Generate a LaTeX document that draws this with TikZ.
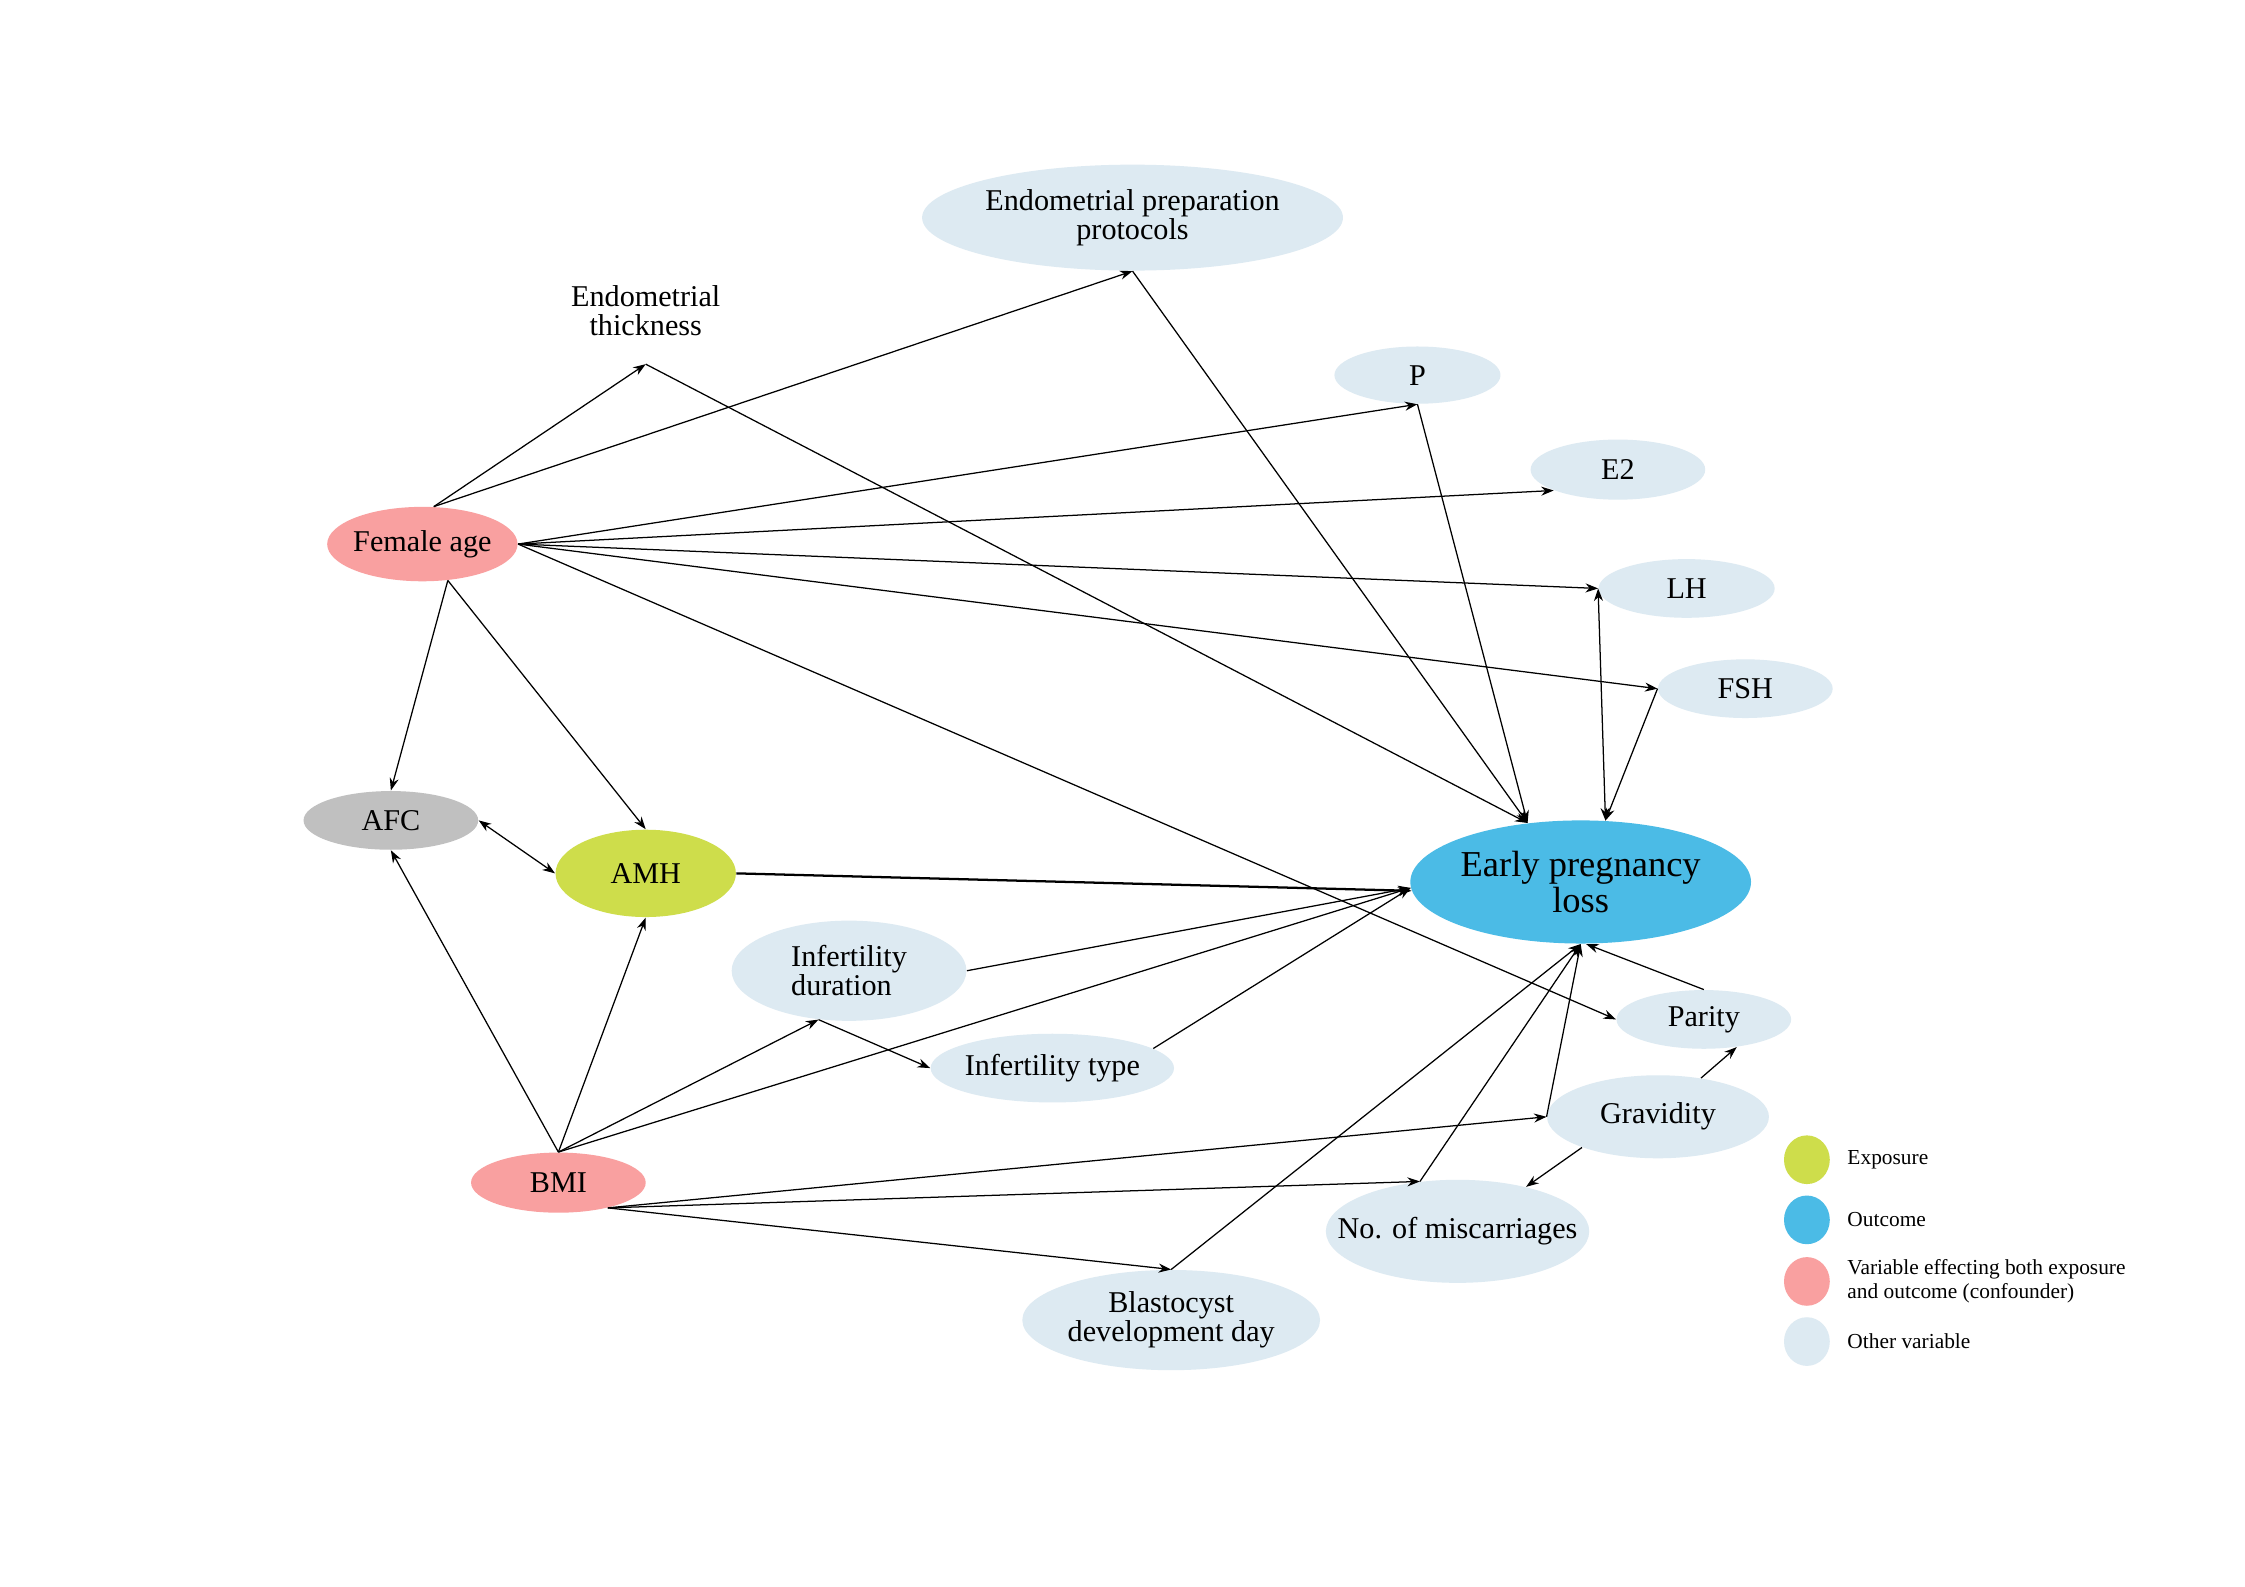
\documentclass[tikz,border=0pt]{standalone}
\usepackage{fontspec}
\setmainfont{Liberation Serif}
\usetikzlibrary{shapes.geometric,arrows.meta}
\definecolor{cpink}{RGB}{249,160,160}
\definecolor{cgreen}{RGB}{206,221,75}
\definecolor{cblue}{RGB}{75,187,230}
\definecolor{clight}{RGB}{221,234,242}
\definecolor{cgray}{RGB}{192,192,192}
\tikzset{
  var/.style={ellipse, inner xsep=-14pt, inner ysep=-5pt, align=center, font=\fontsize{12}{11.5}\selectfont},
  other/.style={var, fill=clight},
  conf/.style={var, fill=cpink},
  expo/.style={var, fill=cgreen},
  outc/.style={var, fill=cblue, font=\fontsize{14.5}{13}\selectfont},
  grayv/.style={var, fill=cgray},
  arr/.style={-{Stealth[length=5pt,width=3.6pt]}, line width=0.5pt},
  darr/.style={{Stealth[length=5pt,width=3.6pt]}-{Stealth[length=5pt,width=3.6pt]}, line width=0.5pt},
  legdot/.style={ellipse, minimum width=0.64cm, minimum height=0.68cm, inner sep=0pt},
  legtxt/.style={anchor=west, align=left, inner sep=0pt, font=\fontsize{8.5}{9.6}\selectfont}
}
\begin{document}
\begin{tikzpicture}[x=0.02cm, y=-0.02cm]
\useasboundingbox[fill=white] (0,0) rectangle (1568,1108);
% nodes
\node[other, minimum width=5.88cm, minimum height=1.48cm] (epp) at (791,152) {Endometrial preparation\\protocols};
\node[var, minimum width=4.0cm, minimum height=1.48cm] (et) at (451,217) {Endometrial\\thickness};
\node[other, minimum width=2.32cm, minimum height=0.80cm] (p) at (990,262) {P};
\node[other, minimum width=2.44cm, minimum height=0.84cm] (e2) at (1130,328) {E2};
\node[other, minimum width=2.46cm, minimum height=0.82cm] (lh) at (1178,411) {LH};
\node[other, minimum width=2.44cm, minimum height=0.82cm] (fsh) at (1219,481) {FSH};
\node[conf, minimum width=2.66cm, minimum height=1.04cm] (fa) at (295,380) {Female age};
\node[grayv, minimum width=2.44cm, minimum height=0.82cm] (afc) at (273,573) {AFC};
\node[expo, minimum width=2.52cm, minimum height=1.22cm] (amh) at (451,610) {AMH};
\node[outc, minimum width=4.76cm, minimum height=1.72cm] (epl) at (1104,616) {Early pregnancy\\loss};
\node[other, minimum width=3.28cm, minimum height=1.40cm, align=left] (idur) at (593,678) {Infertility\\duration};
\node[other, minimum width=3.40cm, minimum height=0.96cm] (itype) at (735,746) {Infertility type};
\node[other, minimum width=2.44cm, minimum height=0.82cm] (parity) at (1190,712) {Parity};
\node[other, minimum width=3.10cm, minimum height=1.16cm] (grav) at (1158,780) {Gravidity};
\node[conf, minimum width=2.44cm, minimum height=0.84cm] (bmi) at (390,826) {BMI};
\node[other, minimum width=3.68cm, minimum height=1.44cm] (nom) at (1018,860) {No. of miscarriages};
\node[other, minimum width=4.16cm, minimum height=1.40cm] (blast) at (818,922) {Blastocyst\\development day};
% legend
\node[legdot, fill=cgreen] (l1) at (1262,810) {};
\node[legdot, fill=cblue] (l2) at (1262,852) {};
\node[legdot, fill=cpink] (l3) at (1262,895) {};
\node[legdot, fill=clight] (l4) at (1262,937) {};
\node[legtxt] (t1) at (1290,810) {Exposure};
\node[legtxt] (t2) at (1290,852) {Outcome};
\node[legtxt] (t3) at (1290,895) {Variable effecting both exposure\\and outcome (confounder)};
\node[legtxt] (t4) at (1290,937) {Other variable};
% edges from female age
\draw[arr] (fa.73) -- (et.south);
\draw[arr] (fa.73) -- (epp.south);
\draw[arr] (fa.east) -- (p.south);
\draw[arr] (fa.east) -- (e2.198);
\draw[arr] (fa.east) -- (lh.west);
\draw[arr] (fa.east) -- (fsh.west);
\draw[arr] (fa.east) -- (parity.west);
\draw[arr] (fa.-55) -- (afc.north);
\draw[arr] (fa.-55) -- (amh.north);
% into outcome from top
\draw[arr] (et.south) -- (epl.132);
\draw[arr] (epp.south) -- (epl.132);
\draw[arr] (p.south) -- (epl.132);
\draw[darr] (lh.west) -- (epl.68);
\draw[arr] (fsh.west) -- (epl.68);
% middle
\draw[darr] (afc.east) -- (amh.west);
\draw[arr, line width=0.9pt] (amh.east) -- (epl.183);
\draw[arr] (idur.east) -- (epl.182);
\draw[arr] (itype.11) -- (epl.182);
\draw[arr] (idur.238) -- (itype.west);
% from BMI
\draw[arr] (bmi.north) -- (afc.south);
\draw[arr] (bmi.north) -- (amh.south);
\draw[arr] (bmi.north) -- (idur.238);
\draw[arr] (bmi.north) -- (epl.182);
\draw[arr] (bmi.-27) -- (grav.west);
\draw[arr] (bmi.-27) -- (nom.127);
\draw[arr] (bmi.-27) -- (blast.north);
% into outcome from bottom
\draw[arr] (blast.north) -- (epl.south);
\draw[arr] (nom.127) -- (epl.south);
\draw[arr] (grav.west) -- (epl.south);
\draw[arr] (parity.north) -- (epl.-85);
\draw[arr] (grav.42) -- (parity.-40);
\draw[arr] (grav.202) -- (nom.33);
\end{tikzpicture}
\end{document}
